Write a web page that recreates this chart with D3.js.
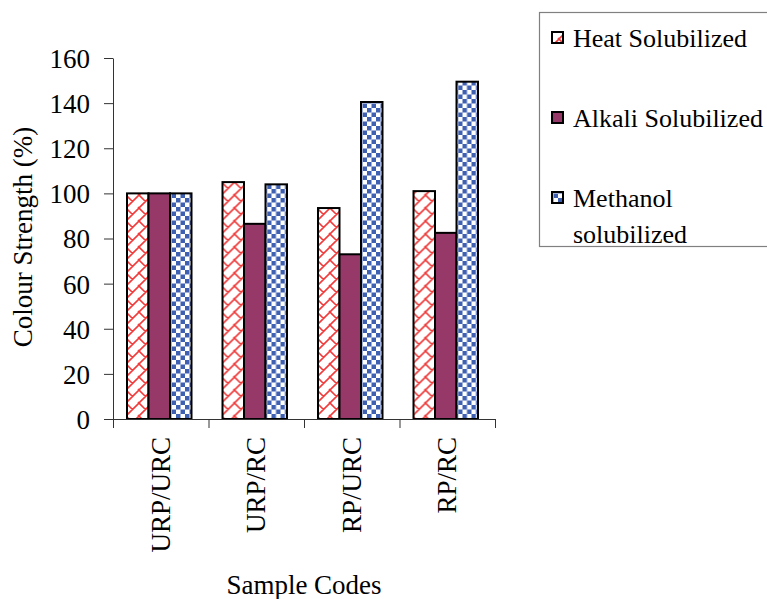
<!DOCTYPE html>
<html>
<head>
<meta charset="utf-8">
<script src="https://cdn.jsdelivr.net/npm/d3@7"></script>
<style>
  html, body { margin: 0; padding: 0; background: #fff; }
  svg { display: block; }
</style>
</head>
<body>
<svg id="chart" width="767" height="599"></svg>
<script>
// Sample codes on the x axis
const categories = ["URP/URC", "URP/RC", "RP/URC", "RP/RC"];
// Series names (legend order)
const seriesNames = ["Heat Solubilized", "Alkali Solubilized", "Methanol solubilized"];
// Colour strength (%) for each series, one value per sample code
const heatValues = [100, 105, 93.5, 101];
const alkaliValues = [100, 86.5, 73, 82.5];
const methanolValues = [100, 104, 140.5, 149.5];
// Y-axis tick values
const yTicks = [0, 20, 40, 60, 80, 100, 120, 140, 160];

const FONT = "'Liberation Serif', 'Times New Roman', Times, serif";
const seriesValues = [heatValues, alkaliValues, methanolValues];
const svg = d3.select("#chart");
const defs = svg.append("defs");

// Red diagonal-brick hatch
const pHeat = defs.append("pattern").attr("id", "pat-heat")
  .attr("patternUnits", "userSpaceOnUse").attr("width", 13).attr("height", 13);
pHeat.append("rect").attr("width", 13).attr("height", 13).attr("fill", "#fff");
pHeat.append("path")
  .attr("d", "M-1,14 L14,-1 M0,0 L6.5,6.5 M-1,1 L1,-1 M12,14 L14,12 M-1,-1 L1,1 M12,12 L14,14")
  .attr("stroke", "#f03c3c").attr("stroke-width", 1.6).attr("fill", "none");

// Solid plum fill
const pAlk = defs.append("pattern").attr("id", "pat-alkali")
  .attr("patternUnits", "userSpaceOnUse").attr("width", 4).attr("height", 4);
pAlk.append("rect").attr("width", 4).attr("height", 4).attr("fill", "#963868");

// Blue checkerboard
const s = 4.5;
const pMeth = defs.append("pattern").attr("id", "pat-methanol")
  .attr("patternUnits", "userSpaceOnUse").attr("width", 2 * s).attr("height", 2 * s);
pMeth.append("rect").attr("width", 2 * s).attr("height", 2 * s).attr("fill", "#fff");
pMeth.append("rect").attr("width", s).attr("height", s).attr("fill", "#3f5fb0");
pMeth.append("rect").attr("x", s).attr("y", s).attr("width", s).attr("height", s).attr("fill", "#3f5fb0");

const fills = ["url(#pat-heat)", "url(#pat-alkali)", "url(#pat-methanol)"];

// Scales
const x0 = d3.scaleBand().domain(categories).range([113, 495]).paddingInner(0).paddingOuter(0);
const x1 = d3.scaleBand().domain(d3.range(seriesNames.length)).range([14, x0.bandwidth() - 17]);
const y = d3.scaleLinear().domain([0, 160]).range([419, 58]);

// Bars
const groups = svg.append("g").selectAll("g")
  .data(categories).join("g")
  .attr("transform", d => `translate(${x0(d)},0)`);

groups.selectAll("rect")
  .data((c, ci) => seriesValues.map((vals, si) => ({ si, v: vals[ci] })))
  .join("rect")
  .attr("x", d => x1(d.si))
  .attr("y", d => y(d.v))
  .attr("width", x1.bandwidth())
  .attr("height", d => y(0) - y(d.v))
  .attr("fill", d => fills[d.si])
  .attr("stroke", "#000")
  .attr("stroke-width", 2);

// Y axis
const yAxis = d3.axisLeft(y).tickValues(yTicks).tickSize(9).tickPadding(14).tickFormat(d3.format("d"));
const gy = svg.append("g").attr("transform", "translate(113,0)").call(yAxis)
  .attr("font-family", null).attr("font-size", null);
gy.select(".domain").attr("stroke", "#333").attr("d", "M0.5,58.5V428");
gy.selectAll(".tick line").attr("stroke", "#333");
gy.selectAll(".tick text").style("font-family", FONT).style("font-size", "27px").attr("dy", "0.35em");

// X axis: baseline with category boundary ticks
const gx = svg.append("g");
gx.append("line").attr("x1", 104).attr("x2", x0.range()[1])
  .attr("y1", y(0) + 0.5).attr("y2", y(0) + 0.5).attr("stroke", "#333");
const boundaries = categories.map(c => x0(c)).concat([x0.range()[1]]);
gx.selectAll("line.bt").data(boundaries).join("line").attr("class", "bt")
  .attr("x1", d => d + 0.5).attr("x2", d => d + 0.5)
  .attr("y1", y(0)).attr("y2", y(0) + 9).attr("stroke", "#333");
gx.selectAll("text").data(categories).join("text")
  .attr("transform", d => `translate(${x0(d) + x0.bandwidth() / 2 + 9},437) rotate(-90)`)
  .attr("text-anchor", "end")
  .style("font-family", FONT)
  .style("font-size", "27px")
  .text(d => d);

// Axis titles
svg.append("text")
  .attr("transform", "translate(32,237) rotate(-90)")
  .attr("text-anchor", "middle")
  .style("font-family", FONT)
  .style("font-size", "27px")
  .text("Colour Strength (%)");

svg.append("text")
  .attr("x", 304).attr("y", 594)
  .attr("text-anchor", "middle")
  .style("font-family", FONT)
  .style("font-size", "27px")
  .text("Sample Codes");

// Legend
const lg = svg.append("g");
lg.append("rect").attr("x", 539.5).attr("y", 12.5).attr("width", 300).attr("height", 234)
  .attr("fill", "#fff").attr("stroke", "#808080").attr("stroke-width", 1.2);

const legendRows = [
  { lines: ["Heat Solubilized"], y: 47 },
  { lines: ["Alkali Solubilized"], y: 127 },
  { lines: ["Methanol", "solubilized"], y: 207 }
];
legendRows.forEach((r, i) => {
  lg.append("rect").attr("x", 552).attr("y", r.y - 15).attr("width", 11).attr("height", 11)
    .attr("fill", fills[i]).attr("stroke", "#000").attr("stroke-width", 2);
  const t = lg.append("text").attr("x", 573).attr("y", r.y)
    .style("font-family", FONT).style("font-size", "26px");
  r.lines.forEach((ln, k) => {
    t.append("tspan").attr("x", 573).attr("dy", k === 0 ? 0 : 36).text(ln);
  });
});
</script>
</body>
</html>
